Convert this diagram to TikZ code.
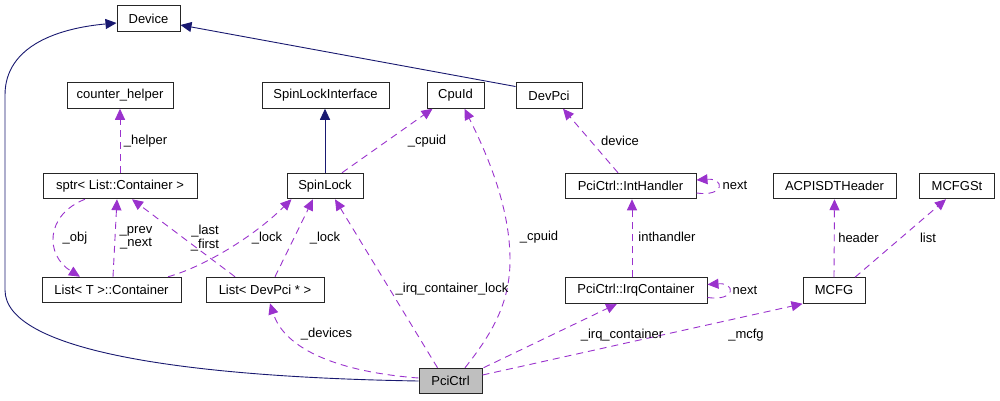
\documentclass[tikz,border=0pt]{standalone}
\usepackage{fontspec}
\setmainfont{Liberation Sans}
\usetikzlibrary{arrows.meta,calc}
\definecolor{navyedge}{RGB}{25,25,112}
\definecolor{purpedge}{RGB}{154,50,205}
\definecolor{nodefill}{RGB}{191,191,191}
\begin{document}
\begin{tikzpicture}[x=1pt,y=-1pt,
  box/.style={draw=black!85,line width=1pt,rectangle,inner sep=0pt,minimum height=25.5pt,font=\fontsize{13}{15}\selectfont},
  lbl/.style={inner sep=0pt,font=\fontsize{13}{13.5}\selectfont,align=center},
  inh/.style={draw=navyedge,line width=0.9pt,-{Triangle[length=11pt,width=10pt]},color=navyedge},
  use/.style={draw=purpedge,line width=0.9pt,dash pattern=on 7pt off 5pt,-{Triangle[length=11pt,width=10pt]},color=purpedge}]
\useasboundingbox (0,0) rectangle (1000,400);
% nodes
\node[box,minimum width=63pt] (Device) at (148.5,18.5) {Device};
\node[box,minimum width=106pt] (counter) at (120,95.5) {counter\_helper};
\node[box,minimum width=127pt] (SLI) at (325.5,95.5) {SpinLockInterface};
\node[box,minimum width=57pt] (CpuId) at (455.5,95.5) {CpuId};
\node[box,minimum width=66pt] (DevPci) at (549,95.5) {DevPci};
\node[box,minimum width=154pt] (sptr) at (120,186) {sptr< List::Container >};
\node[box,minimum width=76pt] (SpinLock) at (325,186) {SpinLock};
\node[box,minimum width=131pt] (IntHandler) at (630.5,186) {PciCtrl::IntHandler};
\node[box,minimum width=123pt] (ACPI) at (834.5,186) {ACPISDTHeader};
\node[box,minimum width=75pt] (MCFGSt) at (957,186) {MCFGSt};
\node[box,minimum width=139pt] (ListTC) at (111.5,290) {List< T >::Container};
\node[box,minimum width=118pt] (ListDev) at (265,290) {List< DevPci * >};
\node[box,minimum width=142pt] (IrqC) at (636,290.5) {PciCtrl::IrqContainer};
\node[box,minimum width=62pt] (MCFG) at (834,290.5) {MCFG};
\node[box,minimum width=63pt,fill=nodefill] (PciCtrl) at (450.5,381) {PciCtrl};
% inheritance edges
\draw[inh] (PciCtrl.west) .. controls (180,377) and (5,350) .. (5,290) -- (5,95) .. controls (5,45) and (60,28) .. ($(Device.west)+(0,4.5)$);
\draw[inh] ($(DevPci.west)+(0,-9)$) -- ($(Device.east)+(0,6.5)$);
\draw[inh] (SpinLock.north) -- (SpinLock.north |- SLI.south);
% usage edges
\draw[use] (sptr.north) -- (counter.south);
\draw[use] ($(SpinLock.north)+(17,0)$) -- ($(CpuId.south west)+(6,0)$);
\draw[use] ($(PciCtrl.north)+(14.5,0)$) .. controls (495,330) and (510,300) .. (510,260) .. controls (510,210) and (490,160) .. ($(CpuId.south)+(9,0)$);
\draw[use] ($(PciCtrl.north)+(-13,0)$) -- ($(SpinLock.south)+(10,0)$);
\draw[use] ($(ListDev.north)+(10,0)$) -- ($(SpinLock.south)+(-12,0)$);
\draw[use] ($(ListTC.north)+(56.5,0)$) .. controls (200,268) and (250,240) .. ($(SpinLock.south west)+(5,0)$);
\draw[use] ($(ListDev.north)+(-30,0)$) -- ($(sptr.south)+(12,0)$);
\draw[use] ($(ListTC.north)+(1.5,0)$) -- ($(sptr.south)+(-3,0)$);
\draw[use] ($(sptr.south)+(-35,0)$) .. controls (45,215) and (45,255) .. ($(ListTC.north)+(-31.5,0)$);
\draw[use] ($(PciCtrl.west)+(0,-3)$) .. controls (340,372) and (285,350) .. ($(ListDev.south)+(5,0)$);
\draw[use] ($(IntHandler.north)+(-12.5,0)$) -- ($(DevPci.south)+(14,0)$);
\draw[use] ($(IntHandler.east)+(0,7)$) .. controls (725,197) and (725,178) .. ($(IntHandler.east)+(0,-6)$);
\draw[use] ($(IrqC.north)+(-4,0)$) -- ($(IntHandler.south)+(1.5,0)$);
\draw[use] ($(IrqC.east)+(0,7)$) .. controls (736,301.5) and (736,282.5) .. ($(IrqC.east)+(0,-6)$);
\draw[use] (MCFG.north) -- (ACPI.south);
\draw[use] ($(MCFG.north)+(21,0)$) -- ($(MCFGSt.south)+(-11,0)$);
\draw[use] ($(PciCtrl.north east)+(1,0)$) -- ($(IrqC.south)+(-19,0)$);
\draw[use] ($(PciCtrl.east)+(0,-6)$) -- (MCFG.south west);
% labels
\node[lbl] (lhelper) at (145.5,141) {\_helper};
\node[lbl] (lcpuid1) at (427,141) {\_cpuid};
\node[lbl] (lobj) at (75,238) {\_obj};
\node[lbl] (lprev) at (136,238) {\_prev\\\_next};
\node[lbl] (llast) at (205,238) {\_last\\\_first};
\node[lbl] (llock1) at (267,238) {\_lock};
\node[lbl] (llock2) at (325,238) {\_lock};
\node[lbl] (lirqlock) at (452,289) {\_irq\_container\_lock};
\node[lbl] (ldevices) at (326.5,334) {\_devices};
\node[lbl] (lcpuid2) at (539,237) {\_cpuid};
\node[lbl] (ldevice) at (620,141) {device};
\node[lbl] (lnext1) at (735,185) {next};
\node[lbl] (lnext2) at (745,290) {next};
\node[lbl] (linth) at (667,237) {inthandler};
\node[lbl] (lheader) at (858.5,238) {header};
\node[lbl] (llist) at (928,238) {list};
\node[lbl] (lirqc) at (622,335) {\_irq\_container};
\node[lbl] (lmcfg) at (746,335) {\_mcfg};
\end{tikzpicture}
\end{document}
